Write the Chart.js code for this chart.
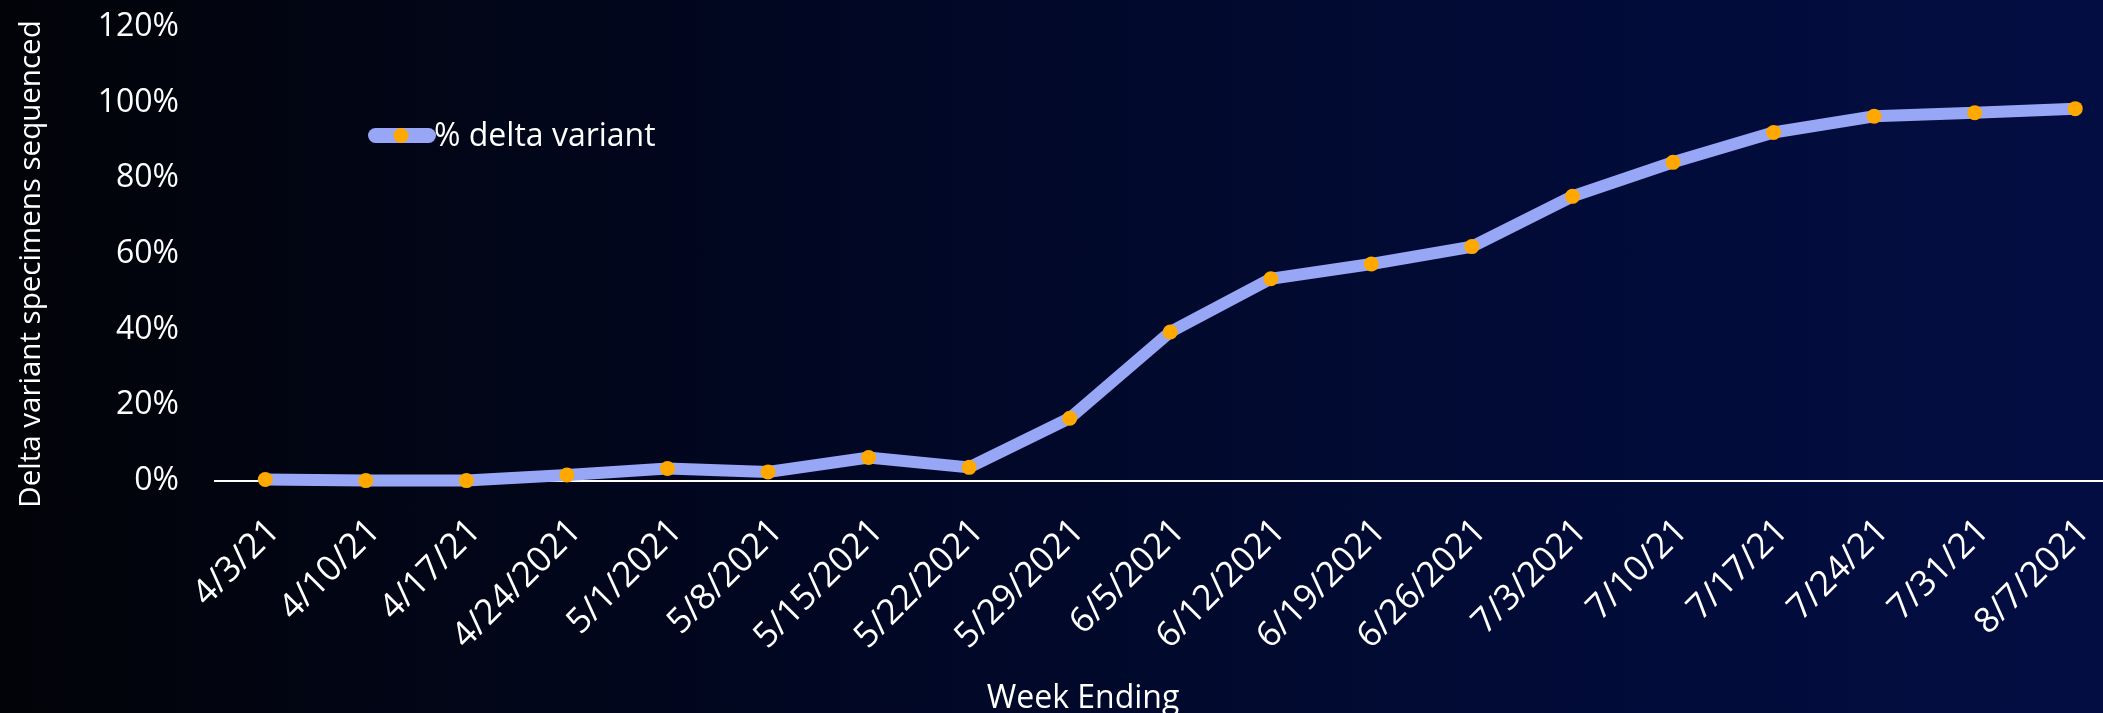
<!DOCTYPE html>
<html>
<head>
<meta charset="utf-8">
<script src="https://cdn.jsdelivr.net/npm/chart.js@4/dist/chart.umd.min.js"></script>
<style>
    html, body {
        margin: 0;
        padding: 0;
        width: 2103px;
        height: 713px;
        overflow: hidden;
        background: linear-gradient(to right, #020308 0%, #010827 45%, #020c3a 80%, #030d42 100%);
    }
    #wrap {
        position: relative;
        width: 2166px;
        height: 713px;
    }
</style>
</head>
<body>
<div id="wrap"><canvas id="deltaChart"></canvas></div>
<script>
const weekLabels = ['4/3/21', '4/10/21', '4/17/21', '4/24/2021', '5/1/2021', '5/8/2021', '5/15/2021',
    '5/22/2021', '5/29/2021', '6/5/2021', '6/12/2021', '6/19/2021', '6/26/2021', '7/3/2021',
    '7/10/21', '7/17/21', '7/24/21', '7/31/21', '8/7/2021'];
const deltaPct = [0.3, 0, 0, 1.5, 3.2, 2.3, 6.1, 3.5, 16.5, 39.3, 53.4, 57.3, 61.9, 75.2, 84.2, 92.1, 96.4, 97.3, 98.4];
const seriesName = '% delta variant';
const yTitle = 'Delta variant specimens sequenced';
const yTicks = [0, 20, 40, 60, 80, 100, 120];

const lineColor = '#97a7f6';
const dotColor = '#ffa800';
const fontFamily = '"Open Sans", "Noto Sans", sans-serif';

// legend sits inside the plot and the y title hangs a bit below the plot,
// so both are drawn by hand
const sideTexts = {
    id: 'sideTexts',
    afterDraw(chart) {
        const ctx = chart.ctx;
        const ds = chart.data.datasets[0];
        const x0 = 368, x1 = 436, cy = 135.5, h = 15;
        ctx.save();
        ctx.fillStyle = ds.borderColor;
        ctx.beginPath();
        ctx.roundRect(x0, cy - h / 2, x1 - x0, h, h / 2);
        ctx.fill();
        ctx.fillStyle = ds.pointBackgroundColor;
        ctx.beginPath();
        ctx.arc((x0 + x1) / 2 - 1, cy, 7.5, 0, Math.PI * 2);
        ctx.fill();
        ctx.fillStyle = '#ffffff';
        ctx.font = '32px ' + fontFamily;
        ctx.textBaseline = 'alphabetic';
        ctx.textAlign = 'left';
        ctx.fillText(ds.label, 434, 146);

        ctx.translate(31.5, 264);
        ctx.rotate(-Math.PI / 2);
        ctx.font = '29.5px ' + fontFamily;
        ctx.textAlign = 'center';
        ctx.textBaseline = 'middle';
        ctx.fillText(yTitle, 0, 0);
        ctx.restore();
    }
};

// keep the plot edges where the original had them
function noScalePadding(scale) {
    scale.paddingTop = 0;
    scale.paddingBottom = 0;
    scale.paddingLeft = 0;
    scale.paddingRight = 0;
}

new Chart(document.getElementById('deltaChart'), {
    type: 'line',
    data: {
        labels: weekLabels,
        datasets: [{
            label: seriesName,
            data: deltaPct,
            borderColor: lineColor,
            borderWidth: 12,
            borderJoinStyle: 'miter',
            borderCapStyle: 'butt',
            tension: 0,
            pointRadius: 7.5,
            pointBorderWidth: 0,
            pointBackgroundColor: dotColor,
            pointBorderColor: dotColor,
            clip: false
        }]
    },
    options: {
        responsive: true,
        maintainAspectRatio: false,
        animation: false,
        layout: { padding: { top: 27, left: 40.5, right: 40.5, bottom: 0 } },
        plugins: {
            legend: { display: false },
            tooltip: { enabled: false },
            title: {
                display: true,
                position: 'bottom',
                text: 'Week Ending',
                color: '#ffffff',
                font: { family: fontFamily, size: 32, weight: 'normal' },
                padding: { top: 5, bottom: -5 }
            }
        },
        scales: {
            x: {
                offset: true,
                grid: { display: false, drawTicks: false },
                border: { display: true, color: '#ffffff', width: 2 },
                ticks: {
                    color: '#ffffff',
                    font: { family: fontFamily, size: 35 },
                    minRotation: 45,
                    maxRotation: 45,
                    padding: 30,
                    labelOffset: 9,
                    autoSkip: false
                },
                afterFit: (scale) => {
                    scale.height = 194;
                    noScalePadding(scale);
                }
            },
            y: {
                min: 0,
                max: 120,
                afterBuildTicks: (scale) => { scale.ticks = yTicks.map(v => ({ value: v })); },
                grid: { display: false, drawTicks: false },
                border: { display: false },
                ticks: {
                    color: '#ffffff',
                    font: { family: fontFamily, size: 32 },
                    padding: 36,
                    callback: (v) => v + '%'
                },
                afterFit: (scale) => {
                    scale.width = 174.5;
                    noScalePadding(scale);
                }
            }
        }
    },
    plugins: [sideTexts]
});
</script>
</body>
</html>
